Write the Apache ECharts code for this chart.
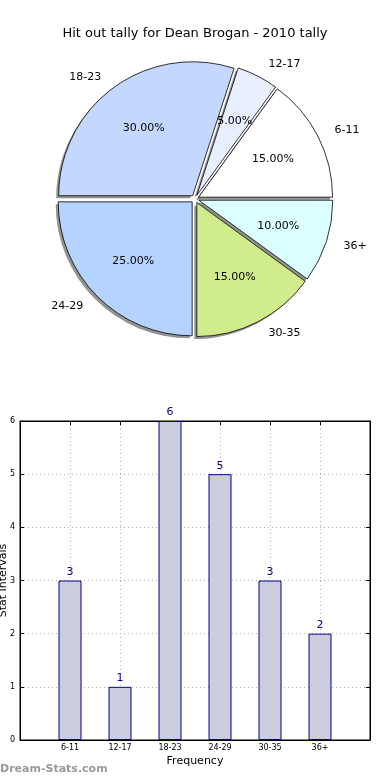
<!DOCTYPE html>
<html><head><meta charset="utf-8">
<script src="https://cdn.jsdelivr.net/npm/echarts@6/dist/echarts.min.js"></script>
<style>html,body{margin:0;padding:0;background:#fff}#c{width:390px;height:780px}</style>
</head><body><div id="c"></div>
<script>
const categories = ['6-11', '12-17', '18-23', '24-29', '30-35', '36+'];
const counts = [3, 1, 6, 5, 3, 2];
const sliceColors = ['#ffffff', '#e8f0ff', '#c4d8ff', '#b4d4ff', '#d0ec8c', '#dcffff'];
const yMin = 0, yMax = 6, yStep = 1;

const FONT = 'DejaVu Sans';
const chart = echarts.init(document.getElementById('c'), null, {renderer: 'canvas'});
const R = 134, CX = 195, CY = 199, OFF = 4, SH = 2.5;

const pieData = categories.map((c, i) => ({
  name: c, value: counts[i], selected: true,
  itemStyle: {color: sliceColors[i]}
}));
const plainData = categories.map((c, i) => ({name: c, value: counts[i], selected: true}));

const pieCommon = {
  type: 'pie', startAngle: 0, clockwise: false,
  selectedMode: 'multiple', selectedOffset: OFF, avoidLabelOverlap: false,
  emphasis: {disabled: true}, silent: true, labelLine: {show: false}
};
const tickOnly = {show: true, inside: true, length: 4, lineStyle: {color: '#000'}};

chart.setOption({
  animation: false,
  textStyle: {fontFamily: FONT},
  title: {
    text: 'Hit out tally for Dean Brogan - 2010 tally',
    left: 'center', top: 22,
    textStyle: {fontFamily: FONT, fontSize: 13, fontWeight: 'normal', color: '#000'}
  },
  graphic: [{
    type: 'text', left: 0, top: 764,
    style: {text: 'Dream-Stats.com', fill: '#999999', font: 'bold 11px "DejaVu Sans"'}
  }],
  grid: {left: 20, right: 20, top: 421, bottom: 40, outerBoundsMode: 'none', containLabel: false,
    show: true, borderColor: '#000', borderWidth: 1},
  xAxis: [{
    type: 'value', min: -1, max: 6, interval: 1, position: 'bottom',
    name: 'Frequency', nameLocation: 'middle', nameGap: 16, nameMoveOverlap: false,
    nameTextStyle: {fontFamily: FONT, fontSize: 11, color: '#000'},
    axisLine: {show: true, onZero: false, lineStyle: {color: '#000'}},
    axisTick: tickOnly,
    axisLabel: {fontFamily: FONT, fontSize: 8, color: '#000', margin: 4,
      formatter: v => categories[v] !== undefined ? categories[v] : ''},
    splitLine: {show: true, lineStyle: {color: '#b0b0b0', type: [1, 3]}}
  }, {
    type: 'value', min: -1, max: 6, interval: 1, position: 'top',
    axisLine: {show: true, onZero: false, lineStyle: {color: '#000'}},
    axisTick: tickOnly, axisLabel: {show: false}, splitLine: {show: false}
  }],
  yAxis: [{
    type: 'value', min: yMin, max: yMax, interval: yStep, position: 'left',
    name: 'Stat Intervals', nameLocation: 'middle', nameGap: 11, nameMoveOverlap: false,
    nameTextStyle: {fontFamily: FONT, fontSize: 11, color: '#000'},
    axisLine: {show: true, onZero: false, lineStyle: {color: '#000'}},
    axisTick: tickOnly,
    axisLabel: {fontFamily: FONT, fontSize: 8, color: '#000', margin: 5},
    splitLine: {show: true, lineStyle: {color: '#b0b0b0', type: [1, 3]}}
  }, {
    type: 'value', min: yMin, max: yMax, interval: yStep, position: 'right',
    axisLine: {show: true, onZero: false, lineStyle: {color: '#000'}},
    axisTick: tickOnly, axisLabel: {show: false}, splitLine: {show: false}
  }],
  series: [
    Object.assign({}, pieCommon, {
      center: [CX - SH, CY + SH], radius: R, z: 1,
      data: plainData,
      itemStyle: {color: 'rgba(60,60,60,0.55)', borderWidth: 0},
      label: {show: false}
    }),
    Object.assign({}, pieCommon, {
      center: [CX, CY], radius: R, z: 2,
      data: pieData,
      itemStyle: {borderColor: '#000', borderWidth: 0.8},
      label: {show: true, position: 'outside', fontFamily: FONT, fontSize: 11, color: '#000', formatter: '{b}'},
      labelLine: {show: false, length: 13, length2: 0}
    }),
    Object.assign({}, pieCommon, {
      center: [CX, CY], radius: R * 1.2, z: 3,
      data: plainData,
      itemStyle: {color: 'rgba(0,0,0,0)', borderWidth: 0},
      label: {show: true, position: 'inside', fontFamily: FONT, fontSize: 11, color: '#000',
        formatter: p => p.percent.toFixed(2) + '%'}
    }),
    {
      type: 'bar', barWidth: 23, xAxisIndex: 0, yAxisIndex: 0,
      data: categories.map((c, i) => [i, counts[i]]),
      itemStyle: {color: '#ccccdf', borderColor: '#00008b', borderWidth: 1},
      label: {show: true, position: 'top', distance: 3, fontFamily: FONT, fontSize: 11, color: '#00008b',
        formatter: p => p.value[1]},
      emphasis: {disabled: true}, silent: true
    }
  ]
});
</script></body></html>
